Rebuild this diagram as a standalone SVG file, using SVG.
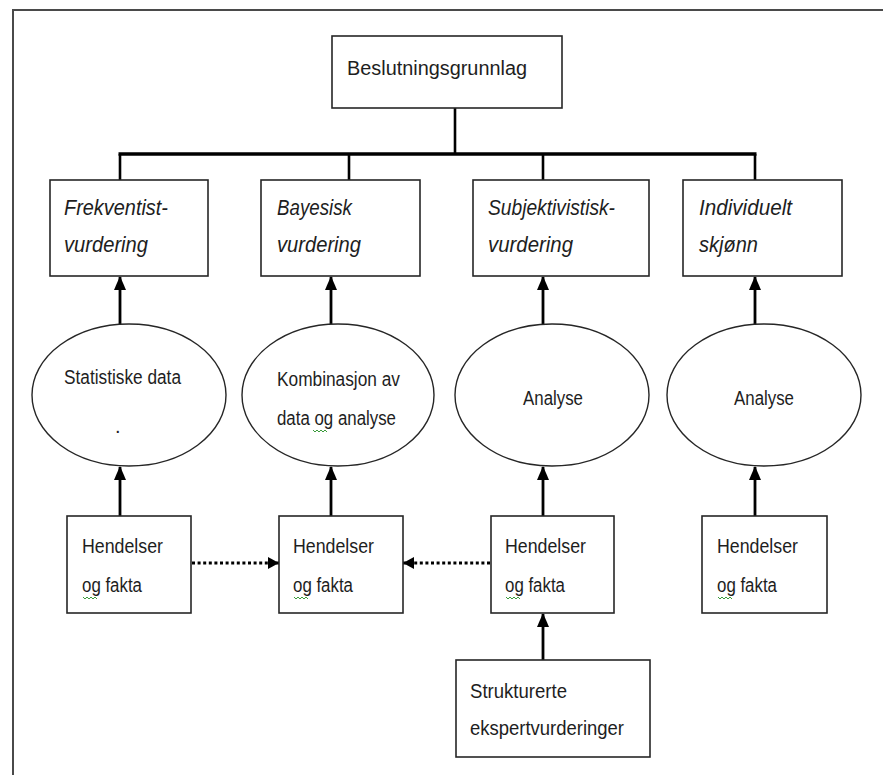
<svg xmlns="http://www.w3.org/2000/svg" width="883" height="775" viewBox="0 0 883 775">
<style>
  .box { fill: #ffffff; stroke: #262626; stroke-width: 1.6; }
  .ell { fill: #ffffff; stroke: #262626; stroke-width: 1.4; }
  .t { font-family: "Liberation Sans", Arial, sans-serif; font-size: 20px; fill: #1e1e1e; }
  .ti { font-family: "Liberation Sans", Arial, sans-serif; font-size: 22px; font-style: italic; fill: #1e1e1e; }
  .frame { fill: none; stroke: #4a4a4a; stroke-width: 2; }
  .bus { stroke: #000; stroke-width: 3.5; fill: none; }
  .conn { stroke: #000; stroke-width: 2.6; fill: none; }
  .arr { stroke: #000; stroke-width: 2.8; fill: none; marker-end: url(#ah); }
  .dot { stroke: #000; stroke-width: 3.2; fill: none; stroke-dasharray: 3 2.6; marker-end: url(#ahd); }
  .sq { stroke: #3a9a3a; stroke-width: 1; fill: none; }
</style>
<defs>
  <marker id="ah" markerUnits="userSpaceOnUse" markerWidth="14" markerHeight="12" refX="13" refY="6" orient="auto">
    <path d="M0,0 L14,6 L0,12 Z" fill="#000"/>
  </marker>
  <marker id="ahd" markerUnits="userSpaceOnUse" markerWidth="11" markerHeight="12" refX="11" refY="6" orient="auto">
    <path d="M0,0 L11,6 L0,12 Z" fill="#000"/>
  </marker>
</defs>
<rect width="883" height="775" fill="#ffffff"/>
<path class="frame" d="M13,775 L13,10 L883,10"/>

<g id="connectors">
  <line class="conn" x1="455" y1="108" x2="455" y2="154"/>
  <line class="bus" x1="118.5" y1="154" x2="756.5" y2="154"/>
  <line class="conn" x1="120" y1="154" x2="120" y2="180"/>
  <line class="conn" x1="349" y1="154" x2="349" y2="180"/>
  <line class="conn" x1="543" y1="154" x2="543" y2="180"/>
  <line class="conn" x1="755" y1="154" x2="755" y2="180"/>
  <line class="arr" x1="120" y1="324" x2="120" y2="277"/>
  <line class="arr" x1="331" y1="324" x2="331" y2="277"/>
  <line class="arr" x1="543" y1="324" x2="543" y2="277"/>
  <line class="arr" x1="755" y1="324" x2="755" y2="277"/>
  <line class="arr" x1="120" y1="516" x2="120" y2="467"/>
  <line class="arr" x1="331" y1="516" x2="331" y2="467"/>
  <line class="arr" x1="543" y1="516" x2="543" y2="467"/>
  <line class="arr" x1="755" y1="516" x2="755" y2="467"/>
  <line class="arr" x1="543" y1="660" x2="543" y2="614"/>
  <line class="dot" x1="192" y1="563" x2="279" y2="563"/>
  <line class="dot" x1="490" y1="563" x2="403" y2="563"/>
</g>

<g id="beslutningsgrunnlag">
  <rect class="box" x="332" y="36" width="230" height="72"/>
  <text class="t" x="347" y="75" font-size="23" textLength="180" lengthAdjust="spacingAndGlyphs">Beslutningsgrunnlag</text>
</g>

<g id="frekventist">
  <rect class="box" x="50" y="180" width="158" height="96"/>
  <text class="ti" x="64" y="215" textLength="104" lengthAdjust="spacingAndGlyphs">Frekventist-</text>
  <text class="ti" x="64" y="252" textLength="84" lengthAdjust="spacingAndGlyphs">vurdering</text>
</g>
<g id="bayesisk">
  <rect class="box" x="261" y="180" width="159" height="96"/>
  <text class="ti" x="277" y="215" textLength="75" lengthAdjust="spacingAndGlyphs">Bayesisk</text>
  <text class="ti" x="277" y="252" textLength="84" lengthAdjust="spacingAndGlyphs">vurdering</text>
</g>
<g id="subjektivistisk">
  <rect class="box" x="473" y="180" width="176" height="96"/>
  <text class="ti" x="488" y="215" textLength="127" lengthAdjust="spacingAndGlyphs">Subjektivistisk-</text>
  <text class="ti" x="488" y="252" textLength="85" lengthAdjust="spacingAndGlyphs">vurdering</text>
</g>
<g id="individuelt">
  <rect class="box" x="683" y="180" width="159" height="96"/>
  <text class="ti" x="699" y="215" textLength="93" lengthAdjust="spacingAndGlyphs">Individuelt</text>
  <text class="ti" x="699" y="252" textLength="59" lengthAdjust="spacingAndGlyphs">skjønn</text>
</g>

<g id="statistiske-data">
  <ellipse class="ell" cx="129" cy="395" rx="97" ry="71"/>
  <text class="t" x="64" y="384" textLength="117" lengthAdjust="spacingAndGlyphs">Statistiske data</text>
  <text class="t" x="115" y="433" font-size="10">.</text>
</g>
<g id="kombinasjon">
  <ellipse class="ell" cx="338" cy="395" rx="96" ry="71"/>
  <text class="t" x="277" y="386" textLength="123" lengthAdjust="spacingAndGlyphs">Kombinasjon av</text>
  <text class="t" x="277" y="425" textLength="119" lengthAdjust="spacingAndGlyphs">data og analyse</text>
  <path class="sq" d="M313,430 l2,2 l2,-2 l2,2 l2,-2 l2,2 l2,-2 l2,2"/>
</g>
<g id="analyse-1">
  <ellipse class="ell" cx="552" cy="395" rx="97" ry="71"/>
  <text class="t" x="523" y="405" textLength="60" lengthAdjust="spacingAndGlyphs">Analyse</text>
</g>
<g id="analyse-2">
  <ellipse class="ell" cx="764" cy="395" rx="97" ry="71"/>
  <text class="t" x="734" y="405" textLength="60" lengthAdjust="spacingAndGlyphs">Analyse</text>
</g>

<g id="hendelser-1">
  <rect class="box" x="67" y="516" width="124" height="97"/>
  <text class="t" x="82" y="553" textLength="81" lengthAdjust="spacingAndGlyphs">Hendelser</text>
  <text class="t" x="82" y="592" textLength="60" lengthAdjust="spacingAndGlyphs">og fakta</text>
  <path class="sq" d="M83,597 l2,2 l2,-2 l2,2 l2,-2 l2,2 l2,-2 l2,2"/>
</g>
<g id="hendelser-2">
  <rect class="box" x="279" y="516" width="124" height="97"/>
  <text class="t" x="293" y="553" textLength="81" lengthAdjust="spacingAndGlyphs">Hendelser</text>
  <text class="t" x="293" y="592" textLength="60" lengthAdjust="spacingAndGlyphs">og fakta</text>
  <path class="sq" d="M294,597 l2,2 l2,-2 l2,2 l2,-2 l2,2 l2,-2 l2,2"/>
</g>
<g id="hendelser-3">
  <rect class="box" x="491" y="516" width="123" height="97"/>
  <text class="t" x="505" y="553" textLength="81" lengthAdjust="spacingAndGlyphs">Hendelser</text>
  <text class="t" x="505" y="592" textLength="60" lengthAdjust="spacingAndGlyphs">og fakta</text>
  <path class="sq" d="M506,597 l2,2 l2,-2 l2,2 l2,-2 l2,2 l2,-2 l2,2"/>
</g>
<g id="hendelser-4">
  <rect class="box" x="702" y="516" width="125" height="97"/>
  <text class="t" x="717" y="553" textLength="81" lengthAdjust="spacingAndGlyphs">Hendelser</text>
  <text class="t" x="717" y="592" textLength="60" lengthAdjust="spacingAndGlyphs">og fakta</text>
  <path class="sq" d="M718,597 l2,2 l2,-2 l2,2 l2,-2 l2,2 l2,-2 l2,2"/>
</g>

<g id="strukturerte">
  <rect class="box" x="456" y="660" width="194" height="97"/>
  <text class="t" x="470" y="698" textLength="97" lengthAdjust="spacingAndGlyphs">Strukturerte</text>
  <text class="t" x="470" y="735" textLength="154" lengthAdjust="spacingAndGlyphs">ekspertvurderinger</text>
</g>
</svg>
